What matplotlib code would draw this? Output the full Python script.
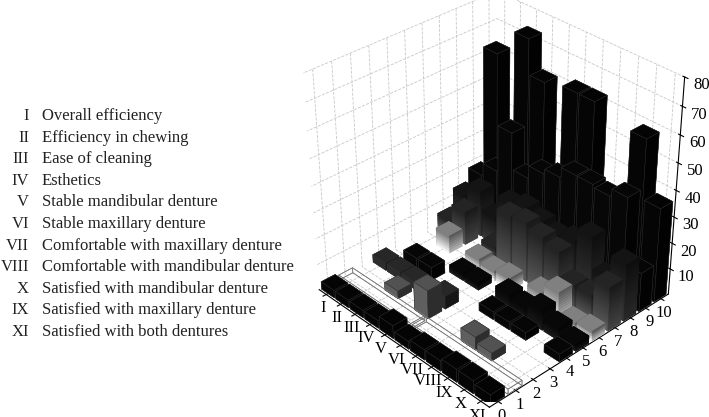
import matplotlib
matplotlib.use('Agg')
import matplotlib.pyplot as plt
import numpy as np

plt.rcParams['font.family'] = ['Liberation Serif', 'DejaVu Serif']

# legend text
numerals = ['I', 'II', 'III', 'IV', 'V', 'VI', 'VII', 'VIII', 'X', 'IX', 'XI']
names = ['Overall efficiency', 'Efficiency in chewing', 'Ease of cleaning', 'Esthetics',
         'Stable mandibular denture', 'Stable maxillary denture',
         'Comfortable with maxillary denture', 'Comfortable with mandibular denture',
         'Satisfied with mandibular denture', 'Satisfied with maxillary denture',
         'Satisfied with both dentures']
x_labels = ['I', 'II', 'III', 'IV', 'V', 'VI', 'VII', 'VIII', 'IX', 'X', 'XI']

# heights per row of the y axis (0 to 10), one value for each of I to XI, 0 = no bar
y0 = [3, 3, 3, 3, 5, 3, 4, 4, 5, 5, 4]
y1 = [0, 0, 0, 0, 0, 0, 0, 0, 0, 0, 0]
y2 = [0, 0, 3, 0, 11, 0, 0, 5, 3, 0, 0]
y3 = [3, 3, 3, 0, 5, 0, 0, 0, 0, 0, 0]
y4 = [0, 5, 5, 0, 0, 0, 3, 3, 3, 0, 3]
y5 = [0, 0, 0, 3, 3, 0, 6, 5, 8, 5, 3]
y6 = [0, 7, 0, 5, 4, 5, 0, 7, 11, 3, 4]
y7 = [6, 13, 0, 6, 22, 23, 21, 19, 10, 10, 17]
y8 = [13, 18, 11, 20, 22, 20, 18, 20, 25, 13, 22]
y9 = [18, 23, 41, 27, 32, 34, 38, 38, 37, 40, 15]
y10 = [62, 5, 73, 60, 5, 62, 62, 30, 30, 58, 36]
rows = [y0, y1, y2, y3, y4, y5, y6, y7, y8, y9, y10]

# empty outlined boxes in row 1
wire_from = [1, 6]
wire_to = [5, 11]
wire_height = [2, 2]

# grey at the top and the foot of the bars in each row
top_grey = [0.02, 1.0, 0.42, 0.2, 0.03, 0.03, 0.5, 0.14, 0.08, 0.03, 0.02]
foot_grey = [0.04, 1.0, 0.42, 0.2, 0.05, 0.1, 0.95, 0.36, 0.22, 0.05, 0.03]

fig = plt.figure(figsize=(7.09, 4.17), dpi=100)
ax = fig.add_axes([0.338, 0.035, 0.7, 1.0], projection='3d')
ax.set_proj_type('persp', focal_length=0.7)
ax.view_init(elev=33, azim=-43.8)
ax.set_box_aspect((1, 1, 1.0), zoom=1.04)
ax.computed_zorder = False

order = 10
for k in range(10, -1, -1):
    for i, h in enumerate(rows[k]):
        order += 1
        if h == 0:
            continue
        top, foot = top_grey[k], foot_grey[k]
        if abs(top - foot) < 0.05:
            g = top
            ax.bar3d(i + 0.55, k - 0.4, 0, 0.9, 0.8, h, color=(g, g, g), edgecolor='#303030',
                     linewidth=0.3, shade=True, zorder=order)
        else:
            # stacked slices make the fade from foot to top, one grey per box face
            n = max(3, int(h))
            edges = np.linspace(0, h, n + 1)
            greys = np.linspace(foot, top, n)
            for s in range(n):
                g = greys[s]
                side = (g * 0.7, g * 0.7, g * 0.7)
                front = (g, g, g)
                cap = (top, top, top)
                faces = [front, cap, front, front, side, side]
                ax.bar3d(i + 0.55, k - 0.4, edges[s], 0.9, 0.8, edges[s + 1] - edges[s], color=faces,
                         edgecolor=faces, linewidth=0.2, shade=False, zorder=order)
    if k == 1:
        for a, b, h in zip(wire_from, wire_to, wire_height):
            ax.bar3d(a - 0.45, k - 0.4, 0, b - a + 0.9, 0.8, h, color=(1, 1, 1, 0), edgecolor='#777777',
                     linewidth=0.5, shade=False, zorder=order)

ax.set_xlim(0.5, 11.5)
ax.set_ylim(-0.5, 10.5)
ax.set_zlim(0, 80)
ax.set_xticks(range(1, 12))
ax.set_xticklabels(x_labels)
ax.set_yticks(range(0, 11))
ax.set_zticks(range(10, 81, 10))
ax.tick_params(axis='x', labelsize=12, pad=-5)
ax.tick_params(axis='y', labelsize=12, pad=-5)
ax.tick_params(axis='z', labelsize=12, pad=-1)

for axis in (ax.xaxis, ax.yaxis, ax.zaxis):
    axis.set_pane_color((1, 1, 1, 1))
    axis.line.set_color('black')
    axis._axinfo['grid'].update(color='#c8c8c8', linewidth=0.6, linestyle='--')

for i in range(len(names)):
    y = 1 - (116 + i * 21.6) / 417
    fig.text(29 / 709, y, numerals[i], ha='right', va='center', fontsize=12, color='#222222')
    fig.text(42 / 709, y, names[i], ha='left', va='center', fontsize=12, color='#222222')

fig.savefig('out.png', dpi=100)
